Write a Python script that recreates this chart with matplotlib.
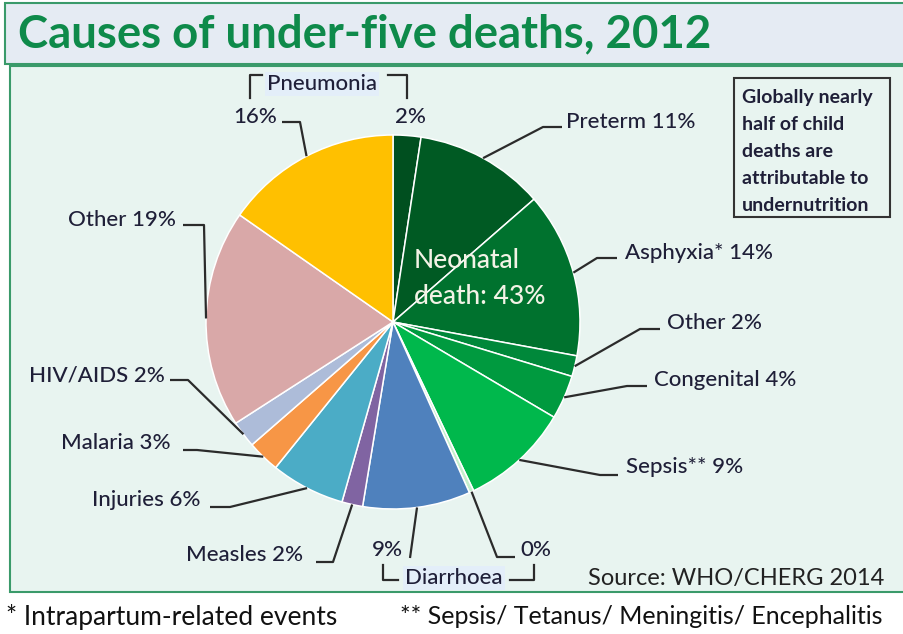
import matplotlib
matplotlib.use("Agg")
import matplotlib.pyplot as plt
from matplotlib.patches import Rectangle
import numpy as np

# ---------------- data ----------------
causes = ["Pneumonia (neonatal)", "Preterm", "Asphyxia*", "Other (neonatal)", "Congenital",
          "Sepsis**", "Diarrhoea (neonatal)", "Diarrhoea", "Measles", "Injuries",
          "Malaria", "HIV/AIDS", "Other", "Pneumonia"]
shares = [2.4, 11.2, 14.3, 1.8, 3.8, 9.4, 0.4, 9.3, 1.8, 6.4, 2.8, 2.3, 18.8, 15.3]
label_texts = ["2%", "Preterm 11%", "Asphyxia* 14%", "Other 2%", "Congenital 4%",
               "Sepsis** 9%", "0%", "9%", "Measles 2%", "Injuries 6%",
               "Malaria 3%", "HIV/AIDS 2%", "Other 19%", "16%"]
colors = ["#004f1f", "#005a23", "#00722e", "#00883a", "#009a3f",
          "#00b84c", "#c4efcc", "#4f81bd", "#8064a2", "#4bacc6",
          "#f79646", "#adbcd9", "#d9a8a8", "#ffc000"]
title = "Causes of under-five deaths, 2012"
neonatal_text = "Neonatal\ndeath: 43%"
note_lines = ["Globally nearly", "half of child", "deaths are", "attributable to", "undernutrition"]
source = "Source: WHO/CHERG 2014"
foot1 = "* Intrapartum-related events"
foot2 = "** Sepsis/ Tetanus/ Meningitis/ Encephalitis"

W, H = 904, 634
FONT = ["Lato", "DejaVu Sans"]
TXT = "#1f1f38"
LINE = "#2b2b2b"
LBL = dict(fontsize=16, color=TXT, family=FONT, fontweight="medium")

def Y(y):
    return H - y

fig = plt.figure(figsize=(W / 100, H / 100), dpi=100)
ax = fig.add_axes([0, 0, 1, 1])
fig.patch.set_facecolor("white")

# background panels
ax.add_patch(Rectangle((5, Y(64)), 910, 61, facecolor="#e5ebf3", edgecolor="#3a9a6a", lw=1.5, zorder=0))
ax.add_patch(Rectangle((10, Y(592)), 905, 526, facecolor="#e8f4f0", edgecolor="#3a9a6a", lw=1.5, zorder=0))

ax.text(18, Y(34), title, fontsize=32.8, fontweight="bold", color="#0e8a4a",
        family=FONT, ha="left", va="center")

# pie
CX, CY, R = 393, Y(322), 187
wedges, _ = ax.pie(shares, colors=colors, startangle=90, counterclock=False,
                   center=(CX, CY), radius=R,
                   wedgeprops=dict(edgecolor="white", linewidth=1.1))
for w in wedges:
    w.set_zorder(2)

ax.set_xlim(0, W)
ax.set_ylim(0, H)
ax.set_aspect("equal")
ax.axis("off")

def edge_point(i):
    w = wedges[i]
    a = np.deg2rad((w.theta1 + w.theta2) / 2)
    return CX + R * np.cos(a), CY + R * np.sin(a)

# label layout: (wedge index, text x, text y, elbow, end) in image coords
layout = [
    (13, 233, 117, (300, 122), (282, 122)),
    (0, 395, 117, None, None),
    (1, 566, 122, (543, 127), (562, 127)),
    (2, 625, 253, (597, 258), (617, 258)),
    (3, 667, 323, (640, 329), (660, 329)),
    (4, 654, 380, (627, 386), (647, 386)),
    (5, 626, 467, (600, 475), (618, 475)),
    (6, 520, 550, (497, 557), (515, 557)),
    (7, 372, 550, (410, 558), (410, 558)),
    (8, 186, 555, (333, 562), (316, 562)),
    (9, 92, 500, (230, 507), (210, 507)),
    (10, 61, 443, (197, 450), (183, 450)),
    (11, 29, 376, (188, 380), (170, 380)),
    (12, 68, 220, (204, 225), (183, 225)),
]
for idx, tx, ty, elbow, end in layout:
    ax.text(tx, Y(ty), label_texts[idx], ha="left", va="center", zorder=5, **LBL)
    if elbow is not None:
        sx, sy = edge_point(idx)
        ax.plot([sx, elbow[0], end[0]], [sy, Y(elbow[1]), Y(end[1])],
                color=LINE, lw=1.6, solid_capstyle="butt", zorder=3)

# group brackets
brackets = [
    [(262, 75), (250, 75), (250, 98)],
    [(388, 75), (407, 75), (407, 98)],
    [(383, 565), (383, 580), (398, 580)],
    [(510, 580), (534, 580), (534, 565)],
]
for b in brackets:
    ax.plot([p[0] for p in b], [Y(p[1]) for p in b], color=LINE, lw=1.6, zorder=3)

ax.text(267, Y(84), "Pneumonia", ha="left", va="center", zorder=5,
        bbox=dict(boxstyle="square,pad=0.1", facecolor="#e3eef9", edgecolor="none"), **LBL)
ax.text(405, Y(578), "Diarrhoea", ha="left", va="center", zorder=5,
        bbox=dict(boxstyle="square,pad=0.1", facecolor="#e3eef9", edgecolor="none"), **LBL)

# neonatal annotation
n1, n2 = neonatal_text.split("\n")
ax.text(414, Y(260), n1, fontsize=19, color="#f3f3e6", family=FONT, fontweight="medium",
        ha="left", va="center", zorder=5)
ax.text(414, Y(296), n2, fontsize=19, color="#f3f3e6", family=FONT, fontweight="medium",
        ha="left", va="center", zorder=5)

# note box
ax.add_patch(Rectangle((734, Y(217)), 156, 139, facecolor="#e8f4f0", edgecolor="#333333", lw=1.5, zorder=4))
for k, line in enumerate(note_lines):
    ax.text(742, Y(98 + k * 26.8), line, fontsize=14, fontweight="bold", color=TXT,
            family=FONT, ha="left", va="center", zorder=5)

ax.text(884, Y(578), source, fontsize=17, color="#222222", family=FONT, ha="right", va="center", zorder=5)
ax.text(6, Y(617), foot1, fontsize=19, color="#111111", family=FONT, ha="left", va="center")
ax.text(400, Y(617), foot2, fontsize=18, color="#111111", family=FONT, ha="left", va="center")

fig.savefig("out.png", dpi=100, facecolor="white")
